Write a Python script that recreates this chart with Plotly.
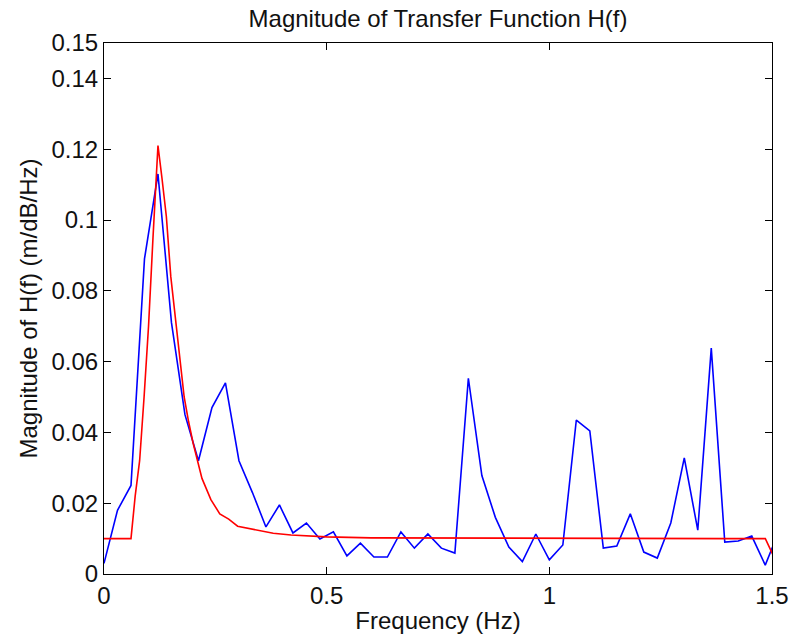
import plotly.graph_objects as go

# Measured transfer function (blue), sampled every 1/33 Hz
freq_meas = [k / 33 for k in range(51)]
mag_meas = [0.003, 0.018, 0.025, 0.089, 0.113, 0.071, 0.045, 0.032, 0.047, 0.054,
            0.032, 0.023, 0.0133, 0.0195, 0.0116, 0.0144, 0.0099, 0.0119, 0.0051, 0.0087,
            0.0048, 0.0048, 0.0119, 0.0073, 0.0113, 0.0073, 0.0059, 0.0553, 0.0278, 0.016,
            0.0076, 0.0035, 0.0113, 0.004, 0.0082, 0.0435, 0.0404, 0.0073, 0.0079, 0.017,
            0.0062, 0.0045, 0.0144, 0.0328, 0.0124, 0.0638, 0.009, 0.0093, 0.0107, 0.0025,
            0.012]

# Model fit (red)
freq_fit = [0.0, 0.0606, 0.07, 0.08, 0.09, 0.10, 0.11, 0.1212, 0.13, 0.14, 0.15, 0.16,
            0.17, 0.18, 0.19, 0.20, 0.22, 0.24, 0.26, 0.28, 0.30, 0.34, 0.38, 0.42,
            0.50, 0.60, 0.80, 1.00, 1.20, 1.40, 1.485, 1.515]
mag_fit = [0.01, 0.01, 0.022, 0.032, 0.05, 0.07, 0.095, 0.121, 0.112, 0.101, 0.084, 0.072,
           0.06, 0.05, 0.043, 0.037, 0.027, 0.021, 0.017, 0.0155, 0.0135, 0.0125, 0.0115, 0.011,
           0.0105, 0.0102, 0.0101, 0.0100, 0.0100, 0.0100, 0.0100, 0.002]

x_ticks = [0, 0.5, 1, 1.5]
x_ticklabels = ["0", "0.5", "1", "1.5"]
y_ticks = [0, 0.02, 0.04, 0.06, 0.08, 0.1, 0.12, 0.14, 0.15]
y_ticklabels = ["0", "0.02", "0.04", "0.06", "0.08", "0.1", "0.12", "0.14", "0.15"]

FONT = "Liberation Sans, Arial, sans-serif"
FS = 24

fig = go.Figure()
fig.add_trace(go.Scatter(x=freq_meas, y=mag_meas, mode="lines",
                         line=dict(color="#0000FF", width=1.6), showlegend=False))
fig.add_trace(go.Scatter(x=freq_fit, y=mag_fit, mode="lines",
                         line=dict(color="#FF0000", width=1.6), showlegend=False))

axis_common = dict(showgrid=False, zeroline=False, showline=True, linecolor="black",
                   linewidth=1.2, mirror="ticks", ticks="inside", ticklen=7,
                   tickcolor="black", tickwidth=1.2, automargin=False,
                   tickfont=dict(family=FONT, size=FS, color="#111111"))

fig.update_layout(
    width=794, height=642,
    margin=dict(l=104, r=22, t=43, b=68, autoexpand=False),
    paper_bgcolor="white", plot_bgcolor="white",
    title=dict(text="Magnitude of Transfer Function H(f)", xref="paper", x=0.5,
               xanchor="center", y=1 - 19 / 642, yanchor="middle",
               font=dict(family=FONT, size=FS, color="#111111")),
    xaxis=dict(range=[0, 1.5], tickvals=x_ticks, ticktext=x_ticklabels,
               title=dict(text="Frequency (Hz)", standoff=4,
                          font=dict(family=FONT, size=FS, color="#111111")),
               **axis_common),
    yaxis=dict(range=[0, 0.15], tickvals=y_ticks, ticktext=y_ticklabels,
               title=dict(text="Magnitude of H(f) (m/dB/Hz)", standoff=6,
                          font=dict(family=FONT, size=FS, color="#111111")),
               **axis_common),
)

fig.write_html("out.html")
